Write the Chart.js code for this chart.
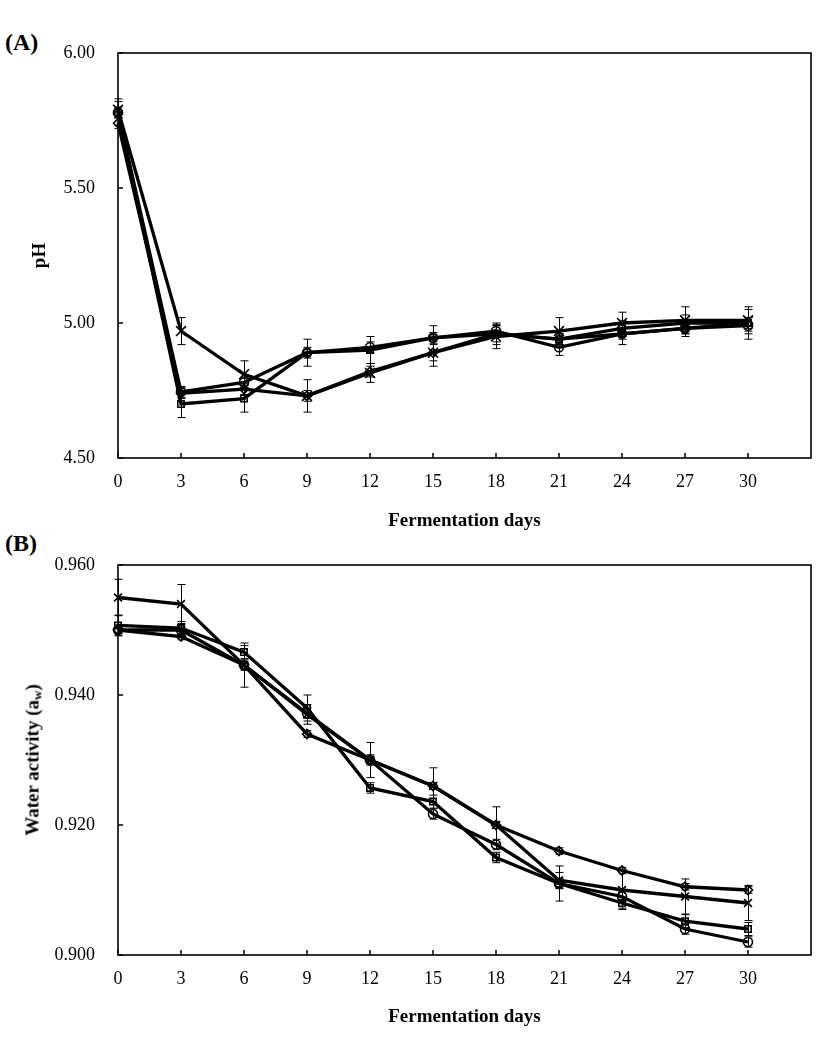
<!DOCTYPE html>
<html><head><meta charset="utf-8">
<script src="https://cdn.jsdelivr.net/npm/chart.js@4/dist/chart.umd.min.js"></script>
<style>
html,body{margin:0;padding:0;background:#fff;}
#wrap{position:relative;width:827px;height:1049px;overflow:hidden;}
.pl{position:absolute;font-family:"Liberation Serif","Times New Roman",serif;font-weight:bold;font-size:24px;color:#000;line-height:1;}
canvas{position:absolute;left:0;}
#ca{top:0;}
#cb{top:520px;}
#awt{position:absolute;left:33px;top:760px;transform:translate(-50%,-50%) rotate(-90deg);white-space:nowrap;
     font-family:"Liberation Serif","Times New Roman",serif;font-weight:bold;font-size:19px;color:#000;line-height:1;}
#awt sub{font-size:13px;vertical-align:-3px;}
</style></head><body>
<div id="wrap">
<div class="pl" style="left:5px;top:30px">(A)</div>
<div class="pl" style="left:5px;top:531px">(B)</div>
<canvas id="ca" width="827" height="545"></canvas>
<canvas id="cb" width="827" height="529"></canvas>
<div id="awt">Water activity (a<sub>w</sub>)</div>
</div>
<script>
// ---------- data ----------
const days = [0, 3, 6, 9, 12, 15, 18, 21, 24, 27, 30];
const xTickValues = [0, 3, 6, 9, 12, 15, 18, 21, 24, 27, 30];
const phTickValues = [4.5, 5.0, 5.5, 6.0];
const awTickValues = [0.90, 0.92, 0.94, 0.96];

const phDiamond = [5.74, 4.74, 4.755, 4.73, 4.82, 4.89, 4.96, 4.94, 4.96, 4.98, 5.00];
const phSquare  = [5.78, 4.70, 4.72, 4.89, 4.90, 4.945, 4.96, 4.94, 4.98, 5.00, 5.00];
const phCircle  = [5.78, 4.745, 4.78, 4.89, 4.91, 4.945, 4.97, 4.91, 4.96, 4.98, 4.99];
const phCross   = [5.79, 4.97, 4.81, 4.73, 4.815, 4.89, 4.95, 4.97, 5.00, 5.01, 5.01];

const phDiamondErr = [0.02, 0.02, 0.02, 0.02, 0.02, 0.03, 0.03, 0.02, 0.02, 0.03, 0.02];
const phSquareErr  = [0.05, 0.05, 0.05, 0.05, 0.05, 0.045, 0.04, 0.02, 0.03, 0.03, 0.06];
const phCircleErr  = [0.02, 0.02, 0.02, 0.02, 0.02, 0.02, 0.02, 0.03, 0.04, 0.02, 0.03];
const phCrossErr   = [0.03, 0.05, 0.05, 0.06, 0.035, 0.05, 0.045, 0.05, 0.04, 0.05, 0.04];

const awDiamond = [0.950, 0.949, 0.9446, 0.934, 0.930, 0.926, 0.920, 0.916, 0.913, 0.9105, 0.910];
const awSquare  = [0.9507, 0.9503, 0.9466, 0.938, 0.9257, 0.9236, 0.915, 0.911, 0.908, 0.9052, 0.904];
const awCircle  = [0.950, 0.950, 0.9446, 0.9372, 0.930, 0.9217, 0.917, 0.911, 0.909, 0.904, 0.902];
const awCross   = [0.955, 0.954, 0.9446, 0.937, 0.930, 0.926, 0.920, 0.9115, 0.910, 0.909, 0.908];

const awDiamondErr = [0.0005, 0.0005, 0.0005, 0.0005, 0.0005, 0.0005, 0.0005, 0.0005, 0.0005, 0.0005, 0.0005];
const awSquareErr  = [0.0016, 0.001, 0.001, 0.002, 0.0008, 0.001, 0.0008, 0.0008, 0.0008, 0.001, 0.001];
const awCircleErr  = [0.0008, 0.0008, 0.0008, 0.0008, 0.0008, 0.0008, 0.0008, 0.0027, 0.0008, 0.0008, 0.0008];
const awCrossErr   = [0.0028, 0.003, 0.0034, 0.0015, 0.0027, 0.0028, 0.0028, 0.0012, 0.003, 0.0027, 0.0027];

// ---------- helpers ----------
const SERIF = '"Liberation Serif", "Times New Roman", serif';
const pts = vals => vals.map((v, i) => ({x: days[i], y: v}));

function makeDataset(label, vals, errs, style, radius) {
  return {
    label, data: pts(vals), errors: errs,
    borderColor: '#000', borderWidth: 3.3, tension: 0,
    pointStyle: style, pointRadius: radius, pointHoverRadius: radius,
    pointBorderColor: '#000', pointBackgroundColor: 'rgba(255,255,255,0)',
    pointBorderWidth: 1.6, clip: false, fill: false
  };
}

const decor = {
  id: 'decor',
  beforeDatasetsDraw(chart) {
    const {ctx, scales: {x, y}} = chart;
    ctx.save();
    ctx.strokeStyle = '#000';
    ctx.lineWidth = 1;
    chart.data.datasets.forEach(ds => {
      (ds.errors || []).forEach((e, j) => {
        const p = ds.data[j];
        const px = Math.round(x.getPixelForValue(p.x)) + 0.5;
        const y1 = y.getPixelForValue(p.y + e), y2 = y.getPixelForValue(p.y - e);
        ctx.beginPath();
        ctx.moveTo(px, y1); ctx.lineTo(px, y2);
        ctx.moveTo(px - 4, y1); ctx.lineTo(px + 4, y1);
        ctx.moveTo(px - 4, y2); ctx.lineTo(px + 4, y2);
        ctx.stroke();
      });
    });
    ctx.restore();
  },
  afterDatasetsDraw(chart) {
    const {ctx, chartArea: a, scales: {x, y}} = chart;
    ctx.save();
    ctx.strokeStyle = '#000';
    ctx.lineWidth = 1.6;
    ctx.strokeRect(a.left, a.top, a.right - a.left, a.bottom - a.top);
    ctx.lineWidth = 1.5;
    ctx.beginPath();
    x.ticks.forEach(t => {
      const px = x.getPixelForValue(t.value);
      ctx.moveTo(px, a.bottom); ctx.lineTo(px, a.bottom - 5);
    });
    y.ticks.forEach(t => {
      const py = y.getPixelForValue(t.value);
      ctx.moveTo(a.left, py); ctx.lineTo(a.left + 5, py);
    });
    ctx.stroke();
    ctx.restore();
  }
};

function makeChart(id, datasets, yMin, yMax, yTicks, yDec, yTitle, yTitlePad, xHeight, topPad, xTitlePad) {
  return new Chart(document.getElementById(id), {
    type: 'line',
    data: {datasets},
    plugins: [decor],
    options: {
      responsive: false, animation: false, events: [],
      layout: {padding: {top: topPad, right: 16, left: 0, bottom: 0}},
      plugins: {legend: {display: false}, tooltip: {enabled: false}},
      scales: {
        x: {
          type: 'linear', min: 0, max: 33,
          afterBuildTicks: s => { s.ticks = xTickValues.map(v => ({value: v})); },
          afterFit: s => { s.height = xHeight; },
          ticks: {autoSkip: false, maxRotation: 0, padding: 13, color: '#000',
                  font: {family: SERIF, size: 18}, callback: v => String(v)},
          grid: {display: false, drawTicks: false},
          border: {display: false},
          title: {display: true, text: 'Fermentation days', color: '#000',
                  font: {family: SERIF, size: 19, weight: 'bold'}, padding: {top: 0, bottom: xTitlePad}}
        },
        y: {
          type: 'linear', min: yMin, max: yMax,
          afterBuildTicks: s => { s.ticks = yTicks.map(v => ({value: v})); },
          afterFit: s => { s.width = 118; },
          ticks: {padding: 23, color: '#000', font: {family: SERIF, size: 18},
                  callback: v => Number(v).toFixed(yDec)},
          grid: {display: false, drawTicks: false},
          border: {display: false},
          title: {display: yTitle !== '', text: yTitle, color: '#000',
                  font: {family: SERIF, size: 19, weight: 'bold'}, padding: {top: yTitlePad, bottom: 0}}
        }
      }
    }
  });
}

makeChart('ca', [
  makeDataset('diamond', phDiamond, phDiamondErr, 'rectRot', 4.5),
  makeDataset('square', phSquare, phSquareErr, 'rect', 4.5),
  makeDataset('circle', phCircle, phCircleErr, 'circle', 4.5),
  makeDataset('cross', phCross, phCrossErr, 'crossRot', 7)
], 4.5, 6.0, phTickValues, 2, 'pH', 29, 87, 53, 13);

makeChart('cb', [
  makeDataset('diamond', awDiamond, awDiamondErr, 'rectRot', 4.5),
  makeDataset('square', awSquare, awSquareErr, 'rect', 4.5),
  makeDataset('circle', awCircle, awCircleErr, 'circle', 4.5),
  makeDataset('cross', awCross, awCrossErr, 'crossRot', 5.5)
], 0.90, 0.96, awTickValues, 3, '', 22, 94, 45, 21);
</script>
</body></html>
